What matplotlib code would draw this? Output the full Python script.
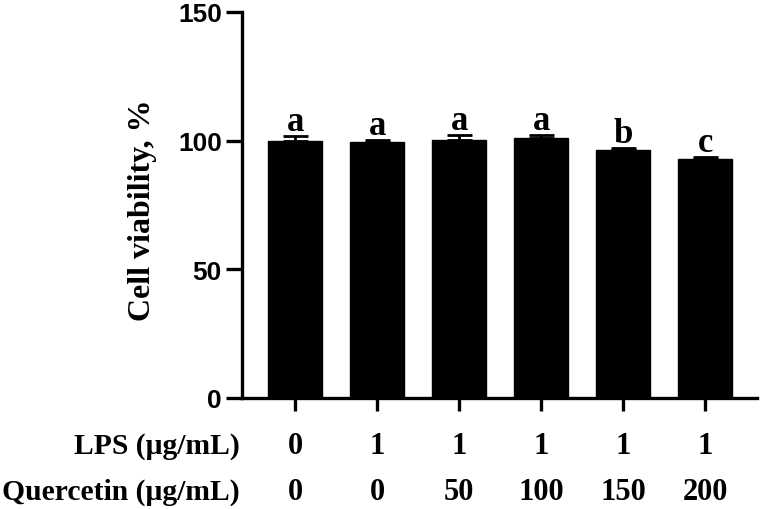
import matplotlib
matplotlib.use("Agg")
import matplotlib.pyplot as plt
import matplotlib.transforms as mtransforms

# --- datos ---
lps = ["0", "1", "1", "1", "1", "1"]
quercetin = ["0", "0", "50", "100", "150", "200"]
viability = [100.0, 99.4, 100.1, 100.9, 96.4, 92.9]
sem = [1.8, 0.9, 2.1, 1.4, 0.8, 0.6]
letters = ["a", "a", "a", "a", "b", "c"]
yticks = [0, 50, 100, 150]

SERIF = "Liberation Serif"
SANS = "Liberation Sans"

fig = plt.figure(figsize=(7.65, 5.1), dpi=100)
ax = fig.add_axes([242 / 765, 1 - 399 / 510, (757 - 242) / 765, (399 - 13) / 510])

x = list(range(len(viability)))
ax.bar(x, viability, width=0.66, color="black", edgecolor="black", zorder=2)
ax.errorbar(x, viability, yerr=[[0] * len(sem), sem], fmt="none", ecolor="black",
            elinewidth=2, capsize=9, capthick=2, zorder=3)

for xi, v, e, lab in zip(x, viability, sem, letters):
    ax.text(xi, v + e + 2.3, lab, ha="center", va="baseline",
            fontsize=25, fontweight="bold", family=SERIF)

ax.set_xlim(-0.65, 5.63)
ax.set_ylim(0, 150)
ax.set_yticks(yticks)
ax.set_yticklabels([str(t) for t in yticks], fontsize=19, fontweight="bold", family=SANS)
ax.set_xticks(x)
ax.set_xticklabels([])

for s in ["top", "right"]:
    ax.spines[s].set_visible(False)
for s in ["left", "bottom"]:
    ax.spines[s].set_linewidth(2.4)
ax.tick_params(axis="y", length=11.5, width=2.4, pad=3)
ax.tick_params(axis="x", length=9.5, width=2.4)

ax.set_ylabel("Cell viability, %", fontsize=23, fontweight="bold", family=SERIF)
ax.yaxis.set_label_coords(-0.165, 0.49)

# filas de condiciones bajo el eje
trans = mtransforms.blended_transform_factory(ax.transData, fig.transFigure)
row_lps = 1 - 454 / 510
row_q = 1 - 500 / 510
for xi, a, b in zip(x, lps, quercetin):
    ax.text(xi, row_lps, a, transform=trans, ha="center", va="baseline",
            fontsize=22, fontweight="bold", family=SERIF)
    ax.text(xi, row_q, b, transform=trans, ha="center", va="baseline",
            fontsize=22, fontweight="bold", family=SERIF)

fig.text(240 / 765, row_lps, "LPS (μg/mL)", ha="right", va="baseline",
         fontsize=21.3, fontweight="bold", family=SERIF)
fig.text(240 / 765, row_q, "Quercetin (μg/mL)", ha="right", va="baseline",
         fontsize=21.3, fontweight="bold", family=SERIF)

fig.savefig("out.png", dpi=100)
